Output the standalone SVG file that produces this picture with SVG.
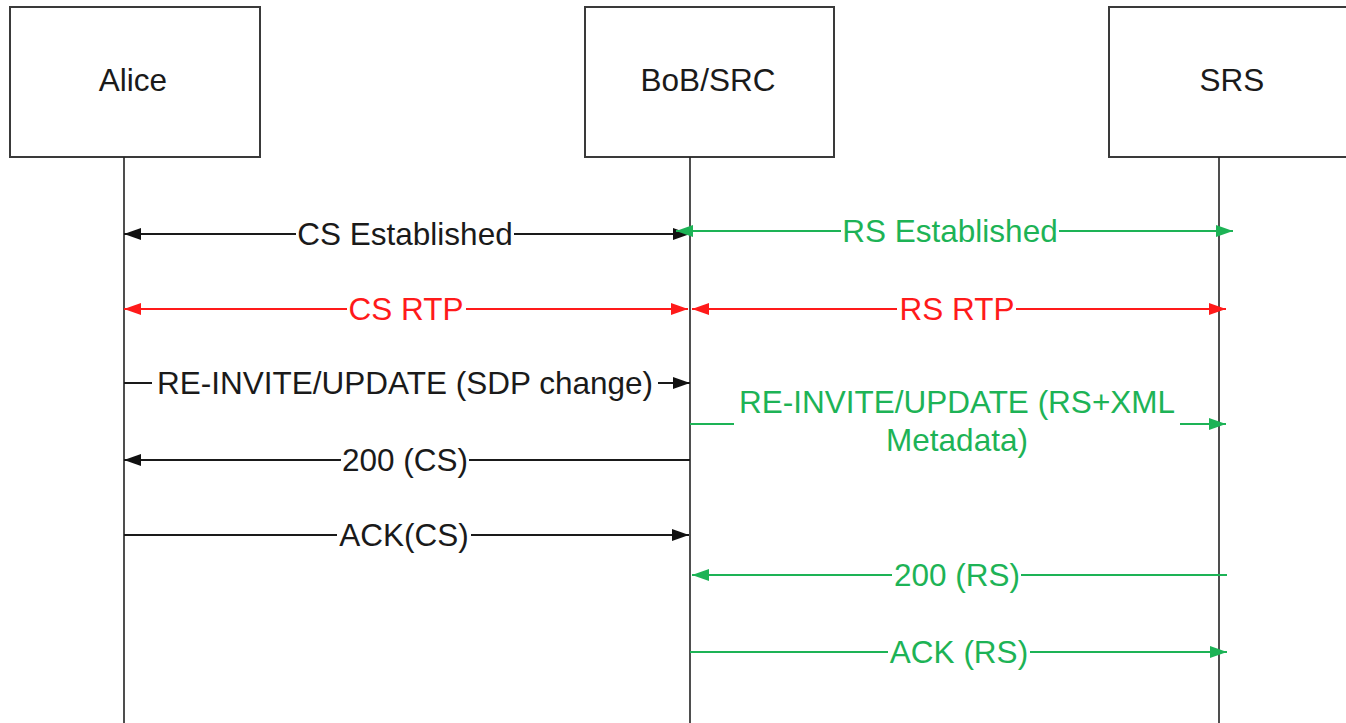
<svg xmlns="http://www.w3.org/2000/svg" width="1346" height="723" viewBox="0 0 1346 723">
<style>
.box{fill:#fff;stroke:#3a3a3a;stroke-width:2}
.life{stroke:#222;stroke-width:1.6;fill:none}
.lbl{font-family:"Liberation Sans",Arial,sans-serif;font-size:31.5px;text-anchor:middle}
.k{fill:#1a1a1a}
.g{fill:#1db356}
.r{fill:#ff1a1a}
.ck{stroke:#1a1a1a;stroke-width:2;fill:none}
.cg{stroke:#1db356;stroke-width:2;fill:none}
.cr{stroke:#ff1a1a;stroke-width:2;fill:none}
</style>
<defs>
<marker id="ak" markerUnits="userSpaceOnUse" markerWidth="18" markerHeight="14" refX="17" refY="7" orient="auto-start-reverse"><path d="M0,1 L17,7 L0,13 z" fill="#111"/></marker>
<marker id="ag" markerUnits="userSpaceOnUse" markerWidth="18" markerHeight="14" refX="17" refY="7" orient="auto-start-reverse"><path d="M0,1 L17,7 L0,13 z" fill="#1db356"/></marker>
<marker id="ar" markerUnits="userSpaceOnUse" markerWidth="18" markerHeight="14" refX="17" refY="7" orient="auto-start-reverse"><path d="M0,1 L17,7 L0,13 z" fill="#ff1a1a"/></marker>
</defs>
<rect width="1346" height="723" fill="#fff"/>
<g id="alice">
<rect class="box" x="10" y="7" width="250" height="150"/>
<text class="lbl k" x="133" y="91">Alice</text>
<line class="life" x1="124" y1="157" x2="124" y2="723"/>
</g>
<g id="bob">
<rect class="box" x="585" y="7" width="249" height="150"/>
<text class="lbl k" x="708" y="91">BoB/SRC</text>
<line class="life" x1="690" y1="157" x2="690" y2="723"/>
</g>
<g id="srs">
<rect class="box" x="1109" y="7" width="250" height="150"/>
<text class="lbl k" x="1232" y="91">SRS</text>
<line class="life" x1="1219" y1="157" x2="1219" y2="723"/>
</g>
<g id="connectors">
<path class="ck" d="M124,234 H296 M514,234 H690" marker-start="url(#ak)" marker-end="url(#ak)"/>
<text class="lbl k" x="405" y="245">CS Established</text>
<path class="cg" d="M676,231 H841 M1059,231 H1233" marker-start="url(#ag)" marker-end="url(#ag)"/>
<text class="lbl g" x="950" y="242">RS Established</text>
<path class="cr" d="M124,309 H347 M466,309 H688" marker-start="url(#ar)" marker-end="url(#ar)"/>
<text class="lbl r" x="406" y="320">CS RTP</text>
<path class="cr" d="M692,309 H897 M1016,309 H1226" marker-start="url(#ar)" marker-end="url(#ar)"/>
<text class="lbl r" x="957" y="320">RS RTP</text>
<path class="ck" d="M124,383 H152 M658,383 H690" marker-end="url(#ak)"/>
<text class="lbl k" x="405" y="394">RE-INVITE/UPDATE (SDP change)</text>
<path class="cg" d="M690,424 H734 M1180,424 H1226" marker-end="url(#ag)"/>
<text class="lbl g" x="957" y="413">RE-INVITE/UPDATE (RS+XML</text>
<text class="lbl g" x="957" y="451">Metadata)</text>
<path class="ck" d="M690,460 H469 M341,460 H124" marker-end="url(#ak)"/>
<text class="lbl k" x="405" y="471">200 (CS)</text>
<path class="ck" d="M124,535 H337 M471,535 H689" marker-end="url(#ak)"/>
<text class="lbl k" x="404" y="546">ACK(CS)</text>
<path class="cg" d="M1227,575 H1021 M892,575 H692" marker-end="url(#ag)"/>
<text class="lbl g" x="957" y="586">200 (RS)</text>
<path class="cg" d="M690,652 H888 M1030,652 H1227" marker-end="url(#ag)"/>
<text class="lbl g" x="959" y="663">ACK (RS)</text>
</g>
</svg>
